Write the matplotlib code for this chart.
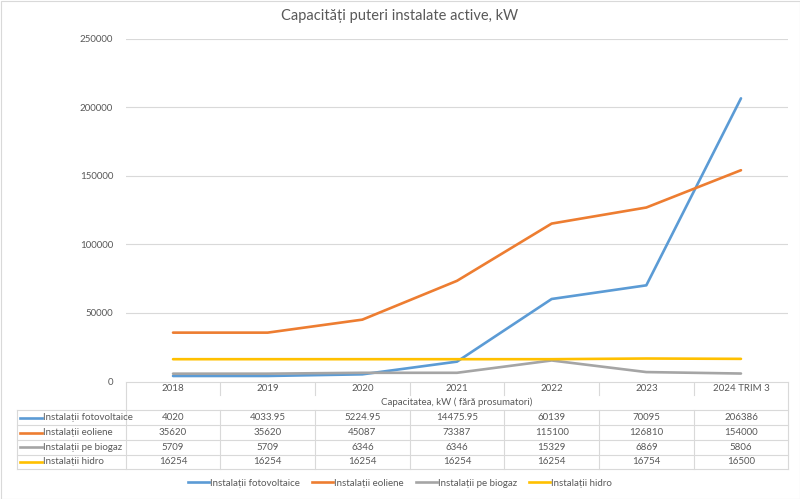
import matplotlib
matplotlib.use("Agg")
import matplotlib.pyplot as plt
from matplotlib.patches import Rectangle

plt.rcParams["font.family"] = ["Lato", "DejaVu Sans"]

# date
categorii = ["2018", "2019", "2020", "2021", "2022", "2023", "2024 TRIM 3"]
fotovoltaice = [4020, 4033.95, 5224.95, 14475.95, 60139, 70095, 206386]
eoliene = [35620, 35620, 45087, 73387, 115100, 126810, 154000]
biogaz = [5709, 5709, 6346, 6346, 15329, 6869, 5806]
hidro = [16254, 16254, 16254, 16254, 16254, 16754, 16500]
serii = ["Instalații fotovoltaice", "Instalații eoliene", "Instalații pe biogaz", "Instalații hidro"]
titlu = "Capacități puteri instalate active, kW"
subtitlu_tabel = "Capacitatea, kW ( fără prosumatori)"
y_ticks = [0, 50000, 100000, 150000, 200000, 250000]

culori = ["#5B9BD5", "#ED7D31", "#A5A5A5", "#FFC000"]
TXT = "#595959"
GRID = "#D9D9D9"


def fmt(v):
    # ca in tabelul Excel: intregii fara zecimale
    return str(int(v)) if float(v).is_integer() else str(v)


W, H = 800, 499
fig = plt.figure(figsize=(W / 100, H / 100), dpi=100)

# zona graficului, in pixeli
x0, x1 = 125.7, 788.3
y_top, y_bot = 38.5, 381.5
ax = fig.add_axes([x0 / W, 1 - y_bot / H, (x1 - x0) / W, (y_bot - y_top) / H])
n = len(categorii)
idx = list(range(n))
for vals, c in zip([fotovoltaice, eoliene, biogaz, hidro], culori):
    ax.plot(idx, vals, color=c, lw=1.9, solid_capstyle="round", zorder=3)
ax.set_xlim(-0.5, n - 0.5)
ax.set_ylim(0, 250000)
ax.set_yticks(y_ticks)
ax.set_yticklabels([str(v) for v in y_ticks])
ax.set_xticks([])
ax.tick_params(axis="y", length=0, pad=9, labelsize=7, labelcolor=TXT)
ax.grid(axis="y", color=GRID, lw=0.8)
ax.set_axisbelow(True)
for s in ax.spines.values():
    s.set_visible(False)

# strat pentru tabel, in coordonate pixel
tb = fig.add_axes([0, 0, 1, 1], zorder=-1)
tb.set_xlim(0, W)
tb.set_ylim(H, 0)
tb.axis("off")
tb.add_patch(Rectangle((0.5, 0.5), W - 1, H - 1, fill=False, ec=GRID, lw=0.8))

fig.text(0.5, 1 - 16 / H, titlu, ha="center", va="center", fontsize=10.5, color=TXT)

col_w = (x1 - x0) / n
tab_left = 16.7
row_lines = [410, 425, 440, 454.5, 469.3]
lk = dict(color=GRID, lw=0.8)

# linii orizontale
tb.plot([x0, x1], [y_bot, y_bot], **lk)
for yl in row_lines:
    tb.plot([tab_left, x1], [yl, yl], **lk)
# linii verticale
tb.plot([x0, x0], [y_bot, row_lines[-1]], **lk)
tb.plot([tab_left, tab_left], [row_lines[0], row_lines[-1]], **lk)
tb.plot([x1, x1], [y_bot, row_lines[-1]], **lk)
for i in range(1, n):
    xv = x0 + i * col_w
    tb.plot([xv, xv], [y_bot, 395], **lk)
    tb.plot([xv, xv], [row_lines[0], row_lines[-1]], **lk)

fs = 7
for i, cat in enumerate(categorii):
    tb.text(x0 + (i + 0.5) * col_w, 388.5, cat, ha="center", va="center", fontsize=fs, color=TXT)
tb.text((x0 + x1) / 2, 402.5, subtitlu_tabel, ha="center", va="center", fontsize=fs, color=TXT)

for r, (nume, vals, c) in enumerate(zip(serii, [fotovoltaice, eoliene, biogaz, hidro], culori)):
    yc = (row_lines[r] + row_lines[r + 1]) / 2
    tb.plot([20, 42], [yc, yc], color=c, lw=1.9)
    tb.text(43, yc, nume, ha="left", va="center", fontsize=fs, color=TXT)
    for i, v in enumerate(vals):
        tb.text(x0 + (i + 0.5) * col_w, yc, fmt(v),
                ha="center", va="center", fontsize=fs, color=TXT)

# legenda de jos
handles = [plt.Line2D([], [], color=c, lw=1.9) for c in culori]
fig.legend(handles, serii, loc="center", bbox_to_anchor=(0.5, 1 - 483 / H), ncol=4,
           frameon=False, fontsize=fs, labelcolor=TXT, handlelength=2.2,
           handletextpad=0.1, columnspacing=1.2)

fig.savefig("out.png", dpi=100)
